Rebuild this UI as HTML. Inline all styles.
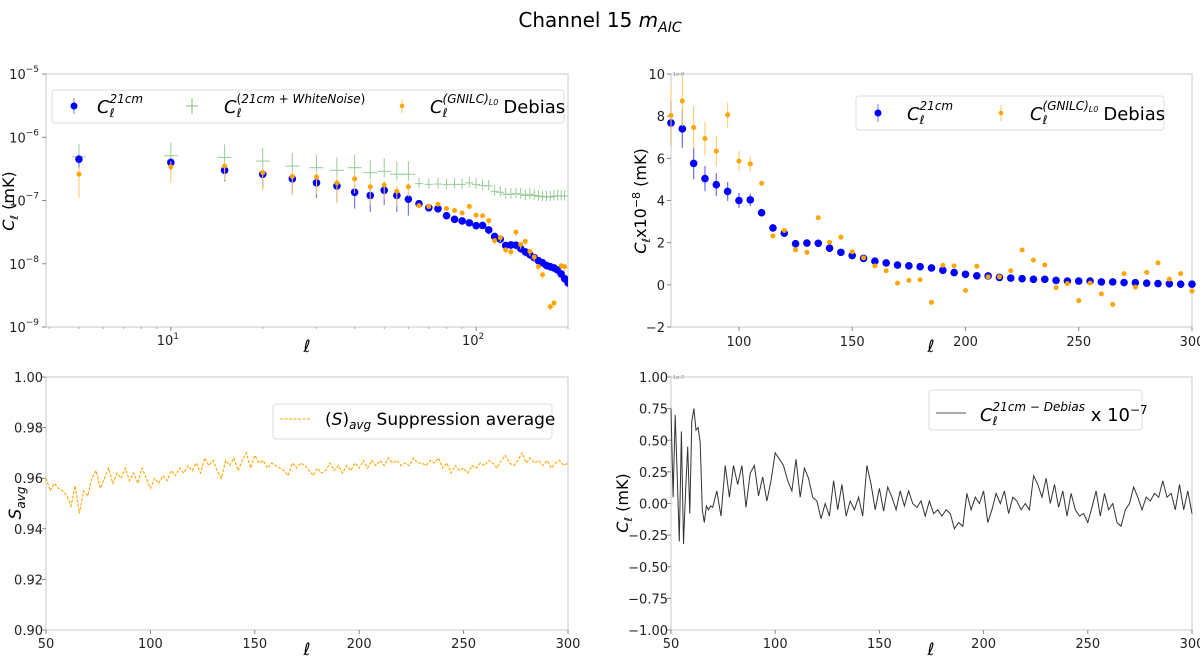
<!DOCTYPE html>
<html><head><meta charset="utf-8"><style>
html,body{margin:0;padding:0;background:#fff;}
svg{display:block;font-family:"DejaVu Sans","Liberation Sans",sans-serif;}
.tick{font-size:13px;fill:#222;}
.ax{fill:none;stroke:#c8c8c8;stroke-width:1;}
</style></head><body>
<svg id="fig" width="1200" height="657" viewBox="0 0 1200 657" xmlns="http://www.w3.org/2000/svg">
<defs><clipPath id="c1"><rect x="46" y="74" width="522" height="253"/></clipPath></defs>
<text x="600" y="27" text-anchor="middle" font-size="20">Channel 15 <tspan font-style="italic">m</tspan><tspan font-style="italic" font-size="14" dy="5">AIC</tspan></text>
<g id="p1"></g>
<g id="p2"></g>
<g id="p3"></g>
<g id="p4"></g>
</svg>
<script>
// shared multipoles (bins of 5)
const ell = [5,10,15,20,25,30,35,40,45,50,55,60,65,70,75,80,85,90,95,100,105,110,115,120,125,130,135,140,145,150,155,160,165,170,175,180,185,190,195,200,205,210,215,220,225,230,235,240,245,250,255,260,265,270,275,280,285,290,295,300];
const c21 = [4.5e-7,4.0e-7,3.0e-7,2.6e-7,2.2e-7,1.9e-7,1.7e-7,1.35e-7,1.2e-7,1.45e-7,1.2e-7,1.05e-7,8.9e-8,7.68e-8,7.4e-8,5.76e-8,5.04e-8,4.75e-8,4.43e-8,4.0e-8,4.03e-8,3.42e-8,2.7e-8,2.45e-8,1.95e-8,1.98e-8,1.97e-8,1.74e-8,1.54e-8,1.39e-8,1.25e-8,1.12e-8,1.04e-8,0.94e-8,0.9e-8,0.86e-8,0.8e-8,0.69e-8,0.58e-8,0.5e-8,0.43e-8,0.42e-8,0.35e-8,0.32e-8,0.29e-8,0.26e-8,0.26e-8,0.21e-8,0.18e-8,0.18e-8,0.18e-8,0.14e-8,0.14e-8,0.11e-8,0.1e-8,0.08e-8,0.06e-8,0.05e-8,0.03e-8,0.03e-8];
const cDeb = [2.6e-7,3.4e-7,3.5e-7,2.75e-7,2.4e-7,2.35e-7,1.9e-7,2.2e-7,1.65e-7,1.75e-7,1.4e-7,1.65e-7,8.3e-8,8.03e-8,8.72e-8,7.46e-8,6.94e-8,6.34e-8,8.06e-8,5.87e-8,5.74e-8,4.82e-8,2.32e-8,2.58e-8,1.66e-8,1.54e-8,3.18e-8,2.02e-8,2.26e-8,1.57e-8,1.28e-8,0.9e-8,0.67e-8,0.08e-8,0.21e-8,0.24e-8,-0.83e-8,0.93e-8,0.9e-8,-0.27e-8,0.88e-8,0.38e-8,0.38e-8,0.67e-8,1.65e-8,1.17e-8,0.94e-8,-0.14e-8,0.06e-8,-0.75e-8,0.08e-8,-0.43e-8,-0.93e-8,0.53e-8,-0.11e-8,0.59e-8,1.04e-8,0.27e-8,0.53e-8,-0.29e-8];
const cWN = [4.9e-7,5.1e-7,4.8e-7,4.2e-7,3.5e-7,3.3e-7,3.0e-7,3.3e-7,2.75e-7,2.9e-7,2.6e-7,2.6e-7,1.85e-7,1.8e-7,1.82e-7,1.78e-7,1.8e-7,1.8e-7,1.9e-7,1.8e-7,1.73e-7,1.7e-7,1.4e-7,1.35e-7,1.26e-7,1.25e-7,1.28e-7,1.26e-7,1.2e-7,1.25e-7,1.2e-7,1.17e-7,1.15e-7,1.14e-7,1.14e-7,1.17e-7,1.18e-7,1.18e-7,1.18e-7];
const err21 = [1.3e-8,1.1e-8,1.0e-8,1.0e-8,0.9e-8,0.8e-8,0.8e-8,0.75e-8,0.7e-8,0.6e-8,0.55e-8,0.5e-8,0.4e-8,0.35e-8,0.3e-8,0.25e-8,0.2e-8,0.18e-8,0.15e-8,0.12e-8,0.1e-8];
const errDeb = [1.5e-8,1.5e-8,1.4e-8,1.3e-8,1.2e-8,1.1e-8,1.0e-8,0.9e-8,0.8e-8,0.7e-8,0.6e-8,0.5e-8,0.4e-8,0.35e-8,0.3e-8,0.25e-8,0.2e-8,0.18e-8,0.15e-8,0.12e-8,0.1e-8];
// suppression average (every 2 multipoles)
const sEll0 = 50, sStep = 2;
const sAvg = [0.960,0.955,0.958,0.956,0.955,0.953,0.949,0.957,0.946,0.955,0.953,0.960,0.963,0.956,0.960,0.964,0.958,0.962,0.960,0.964,0.959,0.962,0.958,0.964,0.960,0.956,0.960,0.958,0.961,0.959,0.963,0.961,0.964,0.962,0.965,0.963,0.966,0.962,0.968,0.965,0.967,0.963,0.960,0.967,0.965,0.968,0.963,0.967,0.970,0.964,0.969,0.966,0.967,0.964,0.966,0.965,0.964,0.963,0.961,0.966,0.964,0.966,0.965,0.963,0.961,0.964,0.962,0.963,0.966,0.963,0.965,0.962,0.965,0.963,0.966,0.964,0.967,0.964,0.967,0.965,0.967,0.965,0.968,0.966,0.967,0.965,0.966,0.965,0.968,0.966,0.966,0.965,0.967,0.966,0.968,0.964,0.966,0.962,0.965,0.963,0.964,0.962,0.965,0.964,0.966,0.965,0.967,0.966,0.964,0.967,0.969,0.966,0.965,0.967,0.970,0.966,0.968,0.966,0.967,0.965,0.967,0.964,0.966,0.967,0.965,0.966];
// difference spectrum (x1e-7)
const dEll = [50,51,52,53,54,55,56,57,58,59,60,61,62,63,64,65,66,67,68,69,70,72,74,76,78,80,82,84,86,88,90,92,94,96,98,100,102,104,106,108,110,112,114,116,118,120,122,124,126,128,130,132,134,136,138,140,142,144,146,148,150,152,154,156,158,160,162,164,166,168,170,172,174,176,178,180,182,184,186,188,190,192,194,196,198,200,202,204,206,208,210,212,214,216,218,220,222,224,226,228,230,232,234,236,238,240,242,244,246,248,250,252,254,256,258,260,262,264,266,268,270,272,274,276,278,280,282,284,286,288,290,292,294,296,298,300];
const dVal = [0.75,0.05,0.70,0.2,-0.30,0.57,-0.32,0.1,0.45,-0.08,0.65,0.75,0.58,0.60,0.48,-0.05,-0.15,-0.02,-0.05,-0.02,-0.03,0.10,-0.10,0.30,0.05,0.30,0.15,0.30,-0.03,0.24,0.30,0.06,0.21,0.02,0.18,0.40,0.35,0.30,0.18,0.10,0.35,0.05,0.28,0.20,0.05,0.02,-0.12,0.0,-0.10,0.18,-0.05,0.15,-0.10,0.02,-0.05,0.05,-0.10,0.30,0.15,-0.05,0.12,-0.06,0.13,0.05,-0.05,0.10,-0.02,0.10,0.0,-0.03,0.02,-0.10,0.02,-0.08,-0.05,-0.10,-0.05,-0.08,-0.20,-0.15,-0.18,0.08,-0.05,0.05,0.0,0.10,-0.15,-0.05,0.08,0.0,0.10,-0.08,0.05,0.02,-0.05,0.0,-0.05,0.22,0.15,0.05,0.20,0.0,0.15,-0.03,0.10,-0.10,0.08,-0.05,-0.10,-0.08,-0.15,-0.03,0.10,-0.10,0.08,-0.05,0.0,-0.15,-0.18,-0.05,0.0,0.13,0.05,-0.05,0.05,0.02,0.08,0.05,0.18,0.05,0.08,-0.05,0.15,-0.05,0.10,-0.08];
const logYTicks = [-5,-6,-7,-8,-9];
const linYTicks2 = [10,8,6,4,2,0,-2];
const linXTicks = [50,100,150,200,250,300];
const linXTicks2 = [100,150,200,250,300];
const sYTicks = [1.00,0.98,0.96,0.94,0.92,0.90];
const dYTicks = [1.00,0.75,0.50,0.25,0.00,-0.25,-0.50,-0.75,-1.00];

const NS='http://www.w3.org/2000/svg';
function mk(parent,tag,attrs){const e=document.createElementNS(NS,tag);for(const k in attrs)e.setAttribute(k,attrs[k]);parent.appendChild(e);return e;}
function lin(d0,d1,r0,r1){return v=>r0+(v-d0)/(d1-d0)*(r1-r0);}
function logs(d0,d1,r0,r1){return v=>r0+(Math.log10(v)-d0)/(d1-d0)*(r1-r0);}
function frame(g,x0,y0,x1,y1){const r=mk(g,'rect',{x:x0,y:y0,width:x1-x0,height:y1-y0,class:'ax'});}
function tickLabel(g,x,y,txt,anchor,name){const t=mk(g,'text',{x:x,y:y,class:'tick','text-anchor':anchor});t.textContent=txt;return t;}
function fmt(v,d){return (v<0?'\u2212':'')+Math.abs(v).toFixed(d);}

// ---- Panel 1: log-log
(function(){
const g=document.getElementById('p1');
const X0=46,X1=568,Y0=74,Y1=327;
const xs=logs(Math.log10(3.9),Math.log10(200),X0,X1);
const ys=logs(-9,-5,Y1,Y0);
const clipX=v=>v>=3.9&&v<=200;
frame(g,X0,Y0,X1,Y1);
logYTicks.forEach(p=>{const y=ys(Math.pow(10,p));mk(g,'line',{x1:X0-4,x2:X0,y1:y,y2:y,stroke:'#888'});
 const t=tickLabel(g,X0-7,y+5,'10','end','y-tick-label');const s=mk(t,'tspan',{dy:-7,'font-size':9});s.textContent='\u2212'+(-p);});
[10,100].forEach((v,i)=>{const x=xs(v);mk(g,'line',{x1:x,x2:x,y1:Y1,y2:Y1+4,stroke:'#888'});
 const t=tickLabel(g,x-3,Y1+18,'10','middle','x-tick-label');const s=mk(t,'tspan',{dy:-6,'font-size':9});s.textContent=String(i+1);});
[4,5,6,7,8,9,20,30,40,50,60,70,80,90,200].forEach(v=>{const x=xs(v);mk(g,'line',{x1:x,x2:x,y1:Y1,y2:Y1+2,stroke:'#aaa'});});
const yl=mk(g,'text',{x:0,y:0,'font-size':16,transform:'translate(14,201) rotate(-90)','text-anchor':'middle'});
yl.innerHTML='<tspan font-style="italic">C</tspan><tspan font-style="italic" font-size="11" dy="4">ℓ</tspan><tspan dy="-4"> (mK)</tspan>';
const xl=mk(g,'text',{x:307,y:352,'font-size':17,'font-style':'italic','text-anchor':'middle'});xl.textContent='ℓ';
const pg=mk(g,'g',{'clip-path':'url(#c1)'});
// green white-noise crosses
cWN.forEach((v,i)=>{const l=ell[i];if(!clipX(l))return;const x=xs(l),y=ys(v);const hw=l<65?7:4;
 const c=mk(pg,'g',{stroke:'#7fbf7f','stroke-width':1,opacity:0.8});
 mk(c,'line',{x1:x-hw,x2:x+hw,y1:y,y2:y});mk(c,'line',{x1:x,x2:x,y1:ys(v*(l<65?1.6:1.25)),y2:ys(v*(l<65?0.8:0.85))});});
// blue
c21.forEach((v,i)=>{const l=ell[i];if(!clipX(l)||v<=0)return;const x=xs(l),y=ys(v);const e=(err21[i]!==undefined?err21[i]:v*0.15)*(i<12?10:1);
 const lo=Math.max(v-Math.min(e,v*0.45),1e-10);
 const c=mk(pg,'g',{});
 mk(c,'line',{x1:x,x2:x,y1:ys(v+e*0.6),y2:ys(lo),stroke:'#7777ff','stroke-width':1.2});mk(c,'circle',{cx:x,cy:y,r:3.8,fill:'#0000ff'});});
// orange
cDeb.forEach((v,i)=>{const l=ell[i];if(!clipX(l)||v<=0)return;const x=xs(l),y=ys(v);const e=(errDeb[i]!==undefined?errDeb[i]:v*0.15)*(i<12?10:1);
 const lo=Math.max(v-Math.min(e,v*0.7),1e-10);
 const c=mk(pg,'g',{});
 mk(c,'line',{x1:x,x2:x,y1:ys(v+e*0.5),y2:ys(lo),stroke:'#ffc966','stroke-width':1});mk(c,'circle',{cx:x,cy:y,r:2.5,fill:'#ffa500'});});
// legend
const lg=mk(g,'g',{});
mk(lg,'rect',{x:52,y:90,width:512,height:33,rx:3,fill:'#fff',stroke:'#ddd'});
mk(lg,'line',{x1:74,x2:74,y1:98,y2:114,stroke:'#7777ff'});mk(lg,'circle',{cx:74,cy:106,r:3.5,fill:'#0000ff'});
mk(lg,'line',{x1:186,x2:198,y1:106,y2:106,stroke:'#7fbf7f'});mk(lg,'line',{x1:192,x2:192,y1:98,y2:114,stroke:'#7fbf7f'});
mk(lg,'line',{x1:402,x2:402,y1:99,y2:113,stroke:'#ffc966'});mk(lg,'circle',{cx:402,cy:106,r:2.3,fill:'#ffa500'});
const t1=mk(lg,'text',{x:97,y:113,'font-size':18});t1.innerHTML='<tspan font-style="italic">C</tspan><tspan font-style="italic" font-size="12" dy="4">ℓ</tspan><tspan font-style="italic" font-size="12" dx="-5" dy="-14">21cm</tspan>';
const t2=mk(lg,'text',{x:224,y:113,'font-size':18});t2.innerHTML='<tspan font-style="italic">C</tspan><tspan font-style="italic" font-size="12" dy="4">ℓ</tspan><tspan font-size="12" dx="-5" dy="-14">(</tspan><tspan font-style="italic" font-size="12">21cm + WhiteNoise</tspan><tspan font-size="12">)</tspan>';
const t3=mk(lg,'text',{x:430,y:113,'font-size':18});t3.innerHTML='<tspan font-style="italic">C</tspan><tspan font-style="italic" font-size="12" dy="4">ℓ</tspan><tspan font-style="italic" font-size="12" dx="-5" dy="-14">(GNILC)</tspan><tspan font-style="italic" font-size="8" dy="2">L0</tspan><tspan dy="8" dx="5">Debias</tspan>';
})();

// ---- Panel 2: linear
(function(){
const g=document.getElementById('p2');
const X0=671,X1=1192,Y0=74,Y1=327;
const xs=lin(70,300,X0,X1), ys=lin(-2,10,Y1,Y0);
frame(g,X0,Y0,X1,Y1);
linYTicks2.forEach(v=>{const y=ys(v);mk(g,'line',{x1:X0-4,x2:X0,y1:y,y2:y,stroke:'#888'});tickLabel(g,X0-6,y+5,fmt(v,0),'end','y-tick-label');});
linXTicks2.forEach(v=>{const x=xs(v);mk(g,'line',{x1:x,x2:x,y1:Y1,y2:Y1+4,stroke:'#888'});tickLabel(g,x,Y1+19,String(v),'middle','x-tick-label');});
const tiny=mk(g,'text',{x:X0+2,y:Y0+2,'font-size':5,fill:'#888'});tiny.textContent='1e-8';
const yl=mk(g,'text',{x:0,y:0,'font-size':16,transform:'translate(646,201) rotate(-90)','text-anchor':'middle'});
yl.innerHTML='<tspan font-style="italic">C</tspan><tspan font-style="italic" font-size="11" dy="4">ℓ</tspan><tspan dy="-4">x10</tspan><tspan font-size="11" dy="-6">\u22128</tspan><tspan dy="6"> (mK)</tspan>';
const xl=mk(g,'text',{x:931,y:352,'font-size':17,'font-style':'italic','text-anchor':'middle'});xl.textContent='ℓ';
ell.forEach((l,i)=>{if(l<70)return;const v=c21[i]/1e-8,x=xs(l);const e=(err21[i]!==undefined?err21[i]/1e-8*60:0)/1;
 const c=mk(g,'g',{});
 if(e>0)mk(c,'line',{x1:x,x2:x,y1:ys(v+e*0.05),y2:ys(v-e*0.05),stroke:'#7777ff','stroke-width':1.3});
 mk(c,'circle',{cx:x,cy:ys(v),r:3.8,fill:'#0000ff'});});
ell.forEach((l,i)=>{if(l<70)return;const v=cDeb[i]/1e-8,x=xs(l);const e=(errDeb[i]!==undefined?errDeb[i]/1e-8*80:0);
 const c=mk(g,'g',{});
 if(e>0)mk(c,'line',{x1:x,x2:x,y1:Math.max(Y0,ys(v+e*0.05)),y2:ys(v-e*0.05),stroke:'#ffc966','stroke-width':1});
 mk(c,'circle',{cx:x,cy:ys(v),r:2.5,fill:'#ffa500'});});
const lg=mk(g,'g',{});
mk(lg,'rect',{x:856,y:96,width:308,height:34,rx:3,fill:'#fff',stroke:'#ddd'});
mk(lg,'line',{x1:878,x2:878,y1:104,y2:122,stroke:'#7777ff'});mk(lg,'circle',{cx:878,cy:113,r:3.5,fill:'#0000ff'});
mk(lg,'line',{x1:1001,x2:1001,y1:105,y2:121,stroke:'#ffc966'});mk(lg,'circle',{cx:1001,cy:113,r:2.3,fill:'#ffa500'});
const t1=mk(lg,'text',{x:907,y:120,'font-size':18});t1.innerHTML='<tspan font-style="italic">C</tspan><tspan font-style="italic" font-size="12" dy="4">ℓ</tspan><tspan font-style="italic" font-size="12" dx="-5" dy="-14">21cm</tspan>';
const t3=mk(lg,'text',{x:1030,y:120,'font-size':18});t3.innerHTML='<tspan font-style="italic">C</tspan><tspan font-style="italic" font-size="12" dy="4">ℓ</tspan><tspan font-style="italic" font-size="12" dx="-5" dy="-14">(GNILC)</tspan><tspan font-style="italic" font-size="8" dy="2">L0</tspan><tspan dy="8" dx="5">Debias</tspan>';
})();

// ---- Panel 3: suppression
(function(){
const g=document.getElementById('p3');
const X0=46,X1=568,Y0=377,Y1=630;
const xs=lin(50,300,X0,X1), ys=lin(0.90,1.00,Y1,Y0);
frame(g,X0,Y0,X1,Y1);
sYTicks.forEach(v=>{const y=ys(v);mk(g,'line',{x1:X0-4,x2:X0,y1:y,y2:y,stroke:'#888'});tickLabel(g,X0-3,y+5,v.toFixed(2),'end','y-tick-label');});
linXTicks.forEach(v=>{const x=xs(v);mk(g,'line',{x1:x,x2:x,y1:Y1,y2:Y1+4,stroke:'#888'});tickLabel(g,x,Y1+18,String(v),'middle','x-tick-label');});
const yl=mk(g,'text',{x:0,y:0,'font-size':17,transform:'translate(21,503) rotate(-90)','text-anchor':'middle'});
yl.innerHTML='<tspan font-style="italic">S</tspan><tspan font-style="italic" font-size="12" dy="4">avg</tspan>';
const xl=mk(g,'text',{x:307,y:655,'font-size':17,'font-style':'italic','text-anchor':'middle'});xl.textContent='ℓ';
const pts=sAvg.map((v,i)=>xs(sEll0+i*sStep).toFixed(1)+','+ys(v).toFixed(1)).join(' ');
const pl=mk(g,'polyline',{points:pts,fill:'none',stroke:'#ffa500','stroke-width':1.1,'stroke-dasharray':'3,1.5'});
const lg=mk(g,'g',{});
mk(lg,'rect',{x:273,y:404,width:279,height:35,rx:3,fill:'#fff',stroke:'#ddd'});
mk(lg,'line',{x1:280,x2:310,y1:419,y2:419,stroke:'#ffa500','stroke-dasharray':'3,1.5'});
const t=mk(lg,'text',{x:325,y:425,'font-size':17});t.innerHTML='(<tspan font-style="italic">S</tspan>)<tspan font-style="italic" font-size="12" dy="4">avg</tspan><tspan dy="-4"> Suppression average</tspan>';
})();

// ---- Panel 4: difference
(function(){
const g=document.getElementById('p4');
const X0=671,X1=1192,Y0=377,Y1=630;
const xs=lin(50,300,X0,X1), ys=lin(-1,1,Y1,Y0);
frame(g,X0,Y0,X1,Y1);
dYTicks.forEach(v=>{const y=ys(v);mk(g,'line',{x1:X0-4,x2:X0,y1:y,y2:y,stroke:'#888'});tickLabel(g,X0-3,y+5,fmt(v,2),'end','y-tick-label');});
linXTicks.forEach(v=>{const x=xs(v);mk(g,'line',{x1:x,x2:x,y1:Y1,y2:Y1+4,stroke:'#888'});tickLabel(g,x,Y1+18,String(v),'middle','x-tick-label');});
const tiny=mk(g,'text',{x:X0+2,y:Y0+2,'font-size':5,fill:'#888'});tiny.textContent='1e-7';
const yl=mk(g,'text',{x:0,y:0,'font-size':16,transform:'translate(628,503) rotate(-90)','text-anchor':'middle'});
yl.innerHTML='<tspan font-style="italic">C</tspan><tspan font-style="italic" font-size="11" dy="4">ℓ</tspan><tspan dy="-4"> (mK)</tspan>';
const xl=mk(g,'text',{x:931,y:655,'font-size':17,'font-style':'italic','text-anchor':'middle'});xl.textContent='ℓ';
const pts=dVal.map((v,i)=>xs(dEll[i]).toFixed(1)+','+ys(v).toFixed(1)).join(' ');
const pl=mk(g,'polyline',{points:pts,fill:'none',stroke:'#333','stroke-width':1});
const lg=mk(g,'g',{});
mk(lg,'rect',{x:929,y:390,width:213,height:40,rx:3,fill:'#fff',stroke:'#ddd'});
mk(lg,'line',{x1:936,x2:966,y1:413,y2:413,stroke:'#555'});
const t=mk(lg,'text',{x:980,y:421,'font-size':18});t.innerHTML='<tspan font-style="italic">C</tspan><tspan font-style="italic" font-size="12" dy="4">ℓ</tspan><tspan font-style="italic" font-size="12" dx="-5" dy="-14">21cm \u2212 Debias</tspan><tspan dy="10"> x 10</tspan><tspan font-size="12" dy="-7">\u22127</tspan>';
})();
</script>
</body></html>
